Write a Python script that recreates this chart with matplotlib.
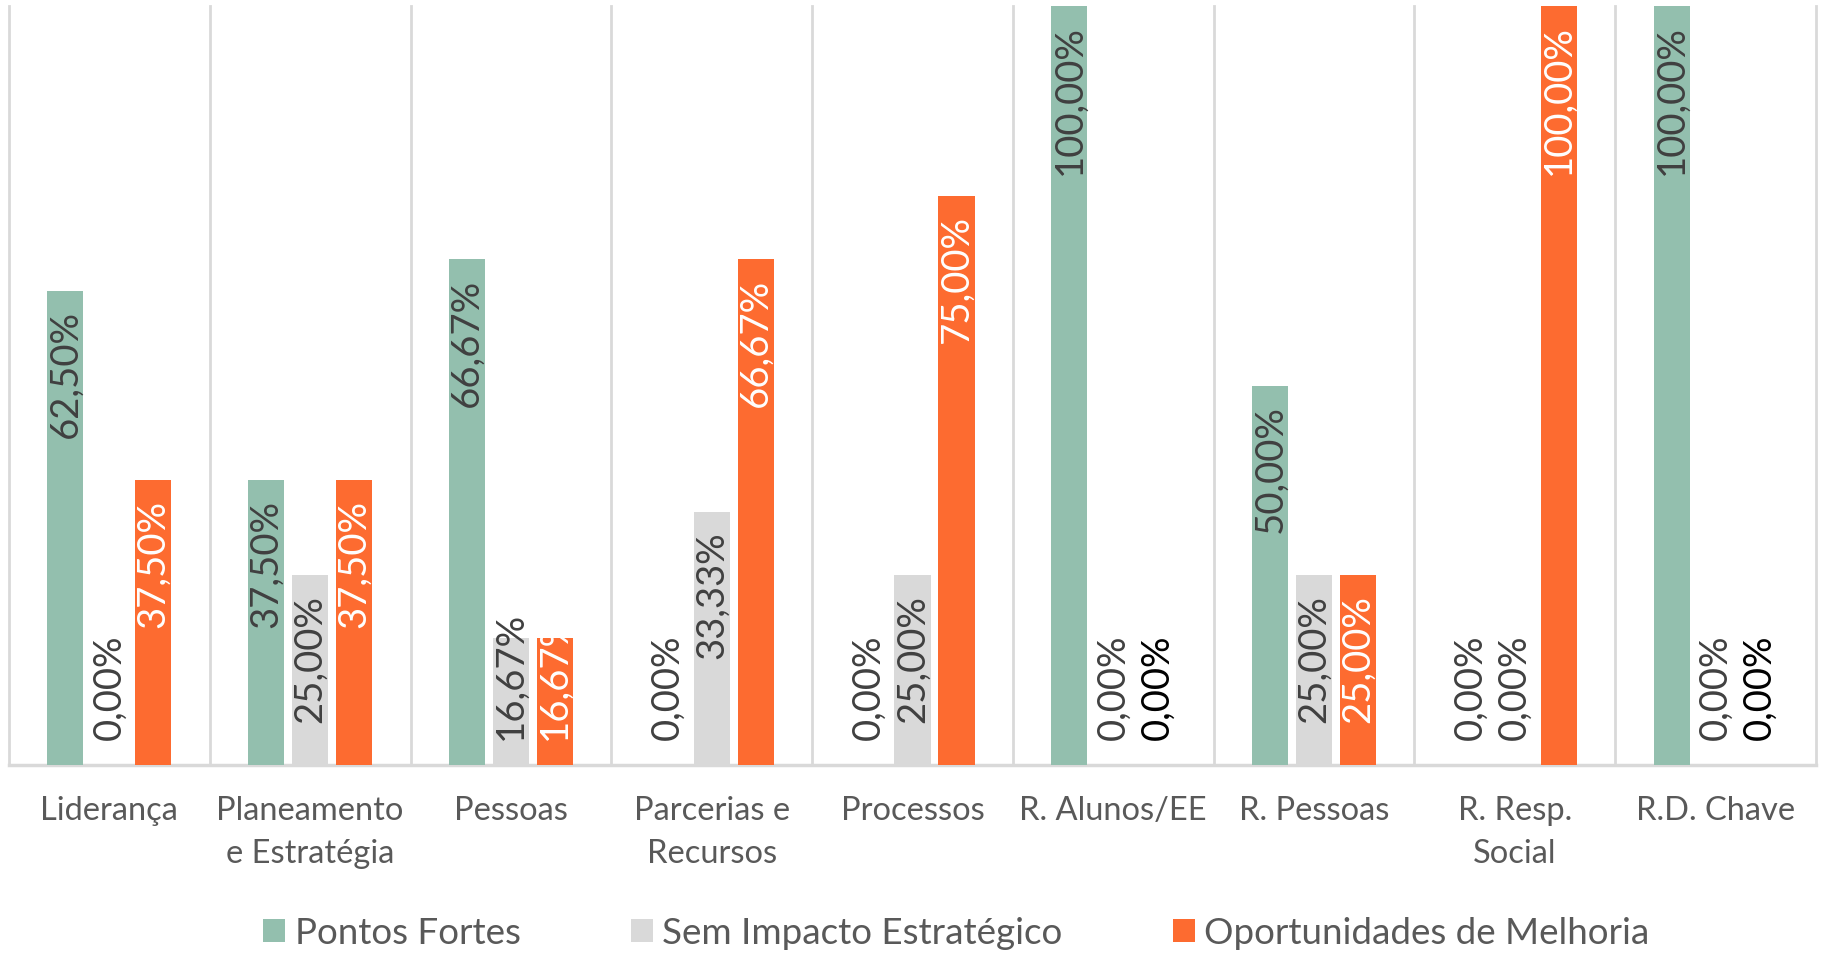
import numpy as np
import matplotlib.pyplot as plt

categories = ["Liderança", "Planeamento\ne Estratégia", "Pessoas", "Parcerias e\nRecursos",
              "Processos", "R. Alunos/EE", "R. Pessoas", "R. Resp.\nSocial", "R.D. Chave"]
series_names = ["Pontos Fortes", "Sem Impacto Estratégico", "Oportunidades de Melhoria"]
pontos_fortes = [62.50, 37.50, 66.67, 0.00, 0.00, 100.00, 50.00, 0.00, 100.00]
sem_impacto = [0.00, 25.00, 16.67, 33.33, 25.00, 0.00, 25.00, 0.00, 0.00]
oportunidades = [37.50, 37.50, 16.67, 66.67, 75.00, 0.00, 25.00, 100.00, 0.00]

plt.rcParams['font.family'] = ['Lato', 'DejaVu Sans']

W, H = 1825, 959
fig = plt.figure(figsize=(W / 100, H / 100), dpi=100)
ax = fig.add_axes([9 / W, 1 - 765 / H, (1816 - 9) / W, (765 - 6) / H])

x = np.arange(len(categories))
width = 0.18
offsets = [-0.219, 0.0, 0.219]
colors = ["#93bfae", "#d9d9d9", "#fd6b30"]
label_colors = ["#404040", "#404040", "#ffffff"]
all_series = [pontos_fortes, sem_impacto, oportunidades]

for vals, off, col, name in zip(all_series, offsets, colors, series_names):
    ax.bar(x + off, vals, width, color=col, label=name, zorder=2)

ax.set_xlim(-0.5, len(categories) - 0.5)
ax.set_ylim(0, 100)

# category separators (vertical gridlines) and baseline
for b in np.arange(-0.5, len(categories), 1):
    ax.axvline(b, color="#d9d9d9", lw=2, zorder=1, clip_on=False)
ax.axhline(0, color="#d9d9d9", lw=2.5, zorder=1, clip_on=False)

for s in ax.spines.values():
    s.set_visible(False)
ax.set_yticks([])
ax.set_xticks(x, categories)
ax.tick_params(axis="x", length=0, pad=22, labelsize=23.5, labelcolor="#595959")
for lbl in ax.get_xticklabels():
    lbl.set_linespacing(1.55)

# data labels: inside end, pushed up from the base when the bar is too short
fig.canvas.draw()
renderer = fig.canvas.get_renderer()
base_px = ax.transData.transform((0, 0))[1]
pad_top = 14
pad_base = 18
for si, vals in enumerate(all_series):
    for i, v in enumerate(vals):
        txt = f"{v:.2f}%".replace(".", ",")
        color = label_colors[si]
        if si == 2 and v == 0:
            color = "black"
        xpos = x[i] + offsets[si]
        t = ax.annotate(txt, (xpos, v), xytext=(0, -pad_top), textcoords="offset points",
                        rotation=90, ha="center", va="top", fontsize=27.5,
                        color=color, zorder=3)
        bb = t.get_window_extent(renderer)
        if bb.y0 < base_px + pad_base * 100 / 72:
            t.xy = (xpos, 0)
            t.xyann = (0, pad_base)
            t.set_va("bottom")

fig.legend(loc="center", bbox_to_anchor=(0.524, 0.027), ncol=3, frameon=False,
           handlelength=0.6, handleheight=0.6, handletextpad=0.25, columnspacing=3.0,
           fontsize=26.5, labelcolor="#595959")

fig.savefig("out.png", dpi=100)
